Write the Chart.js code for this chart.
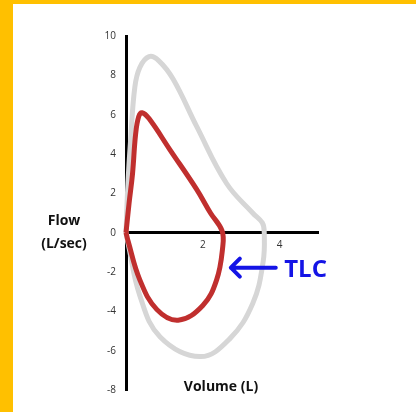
<!DOCTYPE html>
<html>
<head>
<meta charset="utf-8">
<script src="https://cdn.jsdelivr.net/npm/chart.js@4"></script>
<style>
  html, body { margin: 0; padding: 0; background: #FFC000; width: 416px; height: 412px; overflow: hidden; }
  #wrap { position: absolute; left: 13px; top: 4px; width: 403px; height: 408px; background: #fff; }
</style>
</head>
<body>
<div id="wrap"><canvas id="loop" width="403" height="408"></canvas></div>
<script>
// flow-volume loops, volume in L and flow in L/sec
var normalVolume = [0, 0.05, 0.12, 0.23, 0.36, 0.6, 0.85, 1.23, 1.84, 2.62, 3.3, 3.55, 3.6, 3.57, 3.3, 2.7, 1.93, 0.89, 0.36, 0.05, 0];
var normalFlow   = [0, 2.5, 4.7, 7.4, 8.4, 8.95, 8.75, 7.8, 5.4, 2.5, 1.0, 0.5, 0, -1.5, -3.6, -5.4, -6.3, -5.3, -3.2, -0.5, 0];

var restrictVolume = [0, 0.08, 0.17, 0.25, 0.33, 0.42, 0.6, 1.15, 1.84, 2.2, 2.5, 2.52, 2.36, 2.0, 1.36, 0.8, 0.36, 0.05, 0];
var restrictFlow   = [0, 1.5, 3.0, 5.0, 5.9, 6.1, 5.8, 4.2, 2.2, 1.0, 0.1, -0.7, -2.4, -3.7, -4.45, -3.9, -2.4, -0.4, 0];

var flowTicks = [10, 8, 6, 4, 2, 0, -2, -4, -6, -8];
var volumeTicks = [2, 4];

function toPoints(xs, ys) {
    return xs.map(function (x, i) { return { x: x, y: ys[i] }; });
}

var labelFont = "'Open Sans', sans-serif";

var extras = {
    id: 'extras',
    afterDraw: function (chart) {
        var c = chart.ctx, xs = chart.scales.x, ys = chart.scales.y;
        c.save();
        c.fillStyle = '#111';
        c.font = 'bold 14px ' + labelFont;
        c.textAlign = 'center';
        c.textBaseline = 'middle';
        c.fillText('Flow', 51, 217);
        c.fillText('(L/sec)', 51, 240);
        c.fillText('Volume (L)', 208, 383);

        // TLC arrow
        var tipX = xs.getPixelForValue(2.73), tailX = xs.getPixelForValue(3.9);
        var ay = ys.getPixelForValue(-1.78);
        c.strokeStyle = '#1414e6';
        c.fillStyle = '#1414e6';
        c.lineWidth = 4;
        c.lineCap = 'round';
        c.lineJoin = 'round';
        c.beginPath();
        c.moveTo(tailX, ay);
        c.lineTo(tipX, ay);
        c.moveTo(tipX + 9, ay - 9);
        c.lineTo(tipX, ay);
        c.lineTo(tipX + 9, ay + 9);
        c.stroke();
        c.font = 'bold 24px ' + labelFont;
        c.textAlign = 'left';
        c.fillText('TLC', xs.getPixelForValue(4.12), ay + 2);
        c.restore();
    }
};

new Chart(document.getElementById('loop'), {
    type: 'scatter',
    data: {
        datasets: [{
                label: 'Restrictive',
                data: toPoints(restrictVolume, restrictFlow),
                showLine: true,
                borderColor: '#c02f2e',
                borderWidth: 5,
                pointRadius: 0,
                tension: 0.4,
                clip: false,
                order: 1
            },
            {
                label: 'Normal',
                data: toPoints(normalVolume, normalFlow),
                showLine: true,
                borderColor: '#d6d6d6',
                borderWidth: 5,
                pointRadius: 0,
                tension: 0.4,
                clip: false,
                order: 2
            }
        ]
    },
    options: {
        responsive: false,
        animation: false,
        events: [],
        layout: { padding: { left: 0, right: 98, top: 32, bottom: 22 } },
        plugins: { legend: { display: false }, tooltip: { enabled: false } },
        scales: {
            x: {
                type: 'linear',
                position: { y: 0 },
                min: 0,
                max: 5,
                grid: { display: false, drawTicks: false },
                border: { display: true, color: '#000', width: 3 },
                afterBuildTicks: function (s) {
                    s.ticks = volumeTicks.map(function (v) { return { value: v }; });
                },
                ticks: { color: '#333', font: { family: labelFont, size: 10 }, padding: 6 }
            },
            y: {
                type: 'linear',
                min: -8,
                max: 10,
                grid: { display: false, drawTicks: false },
                border: { display: true, color: '#000', width: 3 },
                afterBuildTicks: function (s) {
                    s.ticks = flowTicks.map(function (v) { return { value: v }; });
                },
                afterFit: function (s) { s.width = 113; },
                ticks: { color: '#333', font: { family: labelFont, size: 10 }, padding: 10 }
            }
        }
    },
    plugins: [extras]
});
</script>
</body>
</html>
